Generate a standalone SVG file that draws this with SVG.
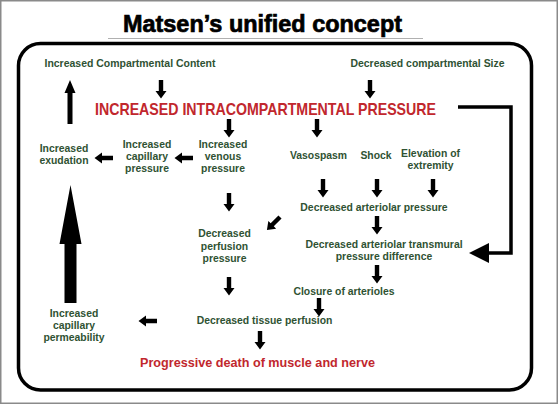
<svg xmlns="http://www.w3.org/2000/svg" xmlns:xlink="http://www.w3.org/1999/xlink" width="558" height="404" viewBox="0 0 558 404">
<style>
text{font-family:"Liberation Sans",Arial,Helvetica,sans-serif;font-weight:bold;text-anchor:middle}
.g{fill:#2f5233;font-size:10.4px}
.r{fill:#c1272d}
.a{fill:#000}
</style>
<defs>
<path id="ad" d="M-2.2,0 H2.2 V11 H5.5 L0,18.5 L-5.5,11 H-2.2 Z"/>
</defs>
<rect x="0" y="0" width="558" height="404" fill="#fff"/>
<rect x="0.75" y="0.75" width="556.5" height="402.5" fill="none" stroke="#8a8a8a" stroke-width="1.5"/>
<g id="title">
<text x="262.5" y="32" font-size="23.5" textLength="279" lengthAdjust="spacingAndGlyphs" fill="#000" stroke="#000" stroke-width="0.7">Matsen’s unified concept</text>
<line x1="108" y1="38.5" x2="423" y2="38.5" stroke="#b0b0b0" stroke-width="1"/>
</g>
<rect id="frame" x="18.5" y="43.5" width="513" height="346.5" rx="22" ry="22" fill="none" stroke="#000" stroke-width="3.5"/>

<g id="n_content"><text class="g" x="130" y="67" textLength="171" lengthAdjust="spacingAndGlyphs">Increased Compartmental Content</text></g>
<g id="n_size"><text class="g" x="427.5" y="67" textLength="154" lengthAdjust="spacingAndGlyphs">Decreased compartmental Size</text></g>
<g id="n_iicp"><text class="r" x="265.5" y="115" font-size="17" textLength="341" lengthAdjust="spacingAndGlyphs">INCREASED INTRACOMPARTMENTAL PRESSURE</text></g>
<g id="n_exud"><text class="g" x="64" y="152">Increased</text><text class="g" x="64" y="164">exudation</text></g>
<g id="n_cap"><text class="g" x="147" y="148">Increased</text><text class="g" x="147" y="160">capillary</text><text class="g" x="147" y="172">pressure</text></g>
<g id="n_ven"><text class="g" x="223" y="148">Increased</text><text class="g" x="223" y="160">venous</text><text class="g" x="223" y="172">pressure</text></g>
<g id="n_vaso"><text class="g" x="318.5" y="159">Vasospasm</text></g>
<g id="n_shock"><text class="g" x="376" y="159">Shock</text></g>
<g id="n_elev"><text class="g" x="430.5" y="157">Elevation of</text><text class="g" x="430.5" y="169">extremity</text></g>
<g id="n_dap"><text class="g" x="374" y="211">Decreased arteriolar pressure</text></g>
<g id="n_datpd"><text class="g" x="384" y="248">Decreased arteriolar transmural</text><text class="g" x="384" y="260">pressure difference</text></g>
<g id="n_dpp"><text class="g" x="224.5" y="237">Decreased</text><text class="g" x="224.5" y="249.5">perfusion</text><text class="g" x="224.5" y="262">pressure</text></g>
<g id="n_closure"><text class="g" x="344" y="295">Closure of arterioles</text></g>
<g id="n_dtp"><text class="g" x="264.5" y="324">Decreased tissue perfusion</text></g>
<g id="n_perm"><text class="g" x="74" y="317">Increased</text><text class="g" x="74" y="329">capillary</text><text class="g" x="74" y="341">permeability</text></g>
<g id="n_death"><text class="r" x="257.5" y="367" font-size="13.5" textLength="235" lengthAdjust="spacingAndGlyphs">Progressive death of muscle and nerve</text></g>

<g id="connectors" class="a">
<use xlink:href="#ad" href="#ad" transform="translate(161,80)"/>
<use xlink:href="#ad" href="#ad" transform="translate(370,80)"/>
<use xlink:href="#ad" href="#ad" transform="translate(229,119)"/>
<use xlink:href="#ad" href="#ad" transform="translate(317,119)"/>
<use xlink:href="#ad" href="#ad" transform="translate(113,158) rotate(90)"/>
<use xlink:href="#ad" href="#ad" transform="translate(193,158) rotate(90)"/>
<use xlink:href="#ad" href="#ad" transform="translate(323,179)"/>
<use xlink:href="#ad" href="#ad" transform="translate(377,179)"/>
<use xlink:href="#ad" href="#ad" transform="translate(433,179)"/>
<use xlink:href="#ad" href="#ad" transform="translate(229,193)"/>
<use xlink:href="#ad" href="#ad" transform="translate(377,216)"/>
<use xlink:href="#ad" href="#ad" transform="translate(280,217) rotate(45)"/>
<use xlink:href="#ad" href="#ad" transform="translate(377,265)"/>
<use xlink:href="#ad" href="#ad" transform="translate(229,277)"/>
<use xlink:href="#ad" href="#ad" transform="translate(319,298)"/>
<use xlink:href="#ad" href="#ad" transform="translate(157,321) rotate(90)"/>
<use xlink:href="#ad" href="#ad" transform="translate(260,331)"/>
<path d="M67.5,124 V93 H64.5 L70,80 L75.5,93 H72.5 V124 Z"/>
<path d="M64.5,303 V244 H59.5 L70.5,185 L81.5,244 H76.5 V303 Z"/>
<polyline points="458,107 511,107 511,253 487,253" fill="none" stroke="#000" stroke-width="3.5"/>
<path d="M469,253 L489,243 L489,263 Z"/>
</g>
</svg>
